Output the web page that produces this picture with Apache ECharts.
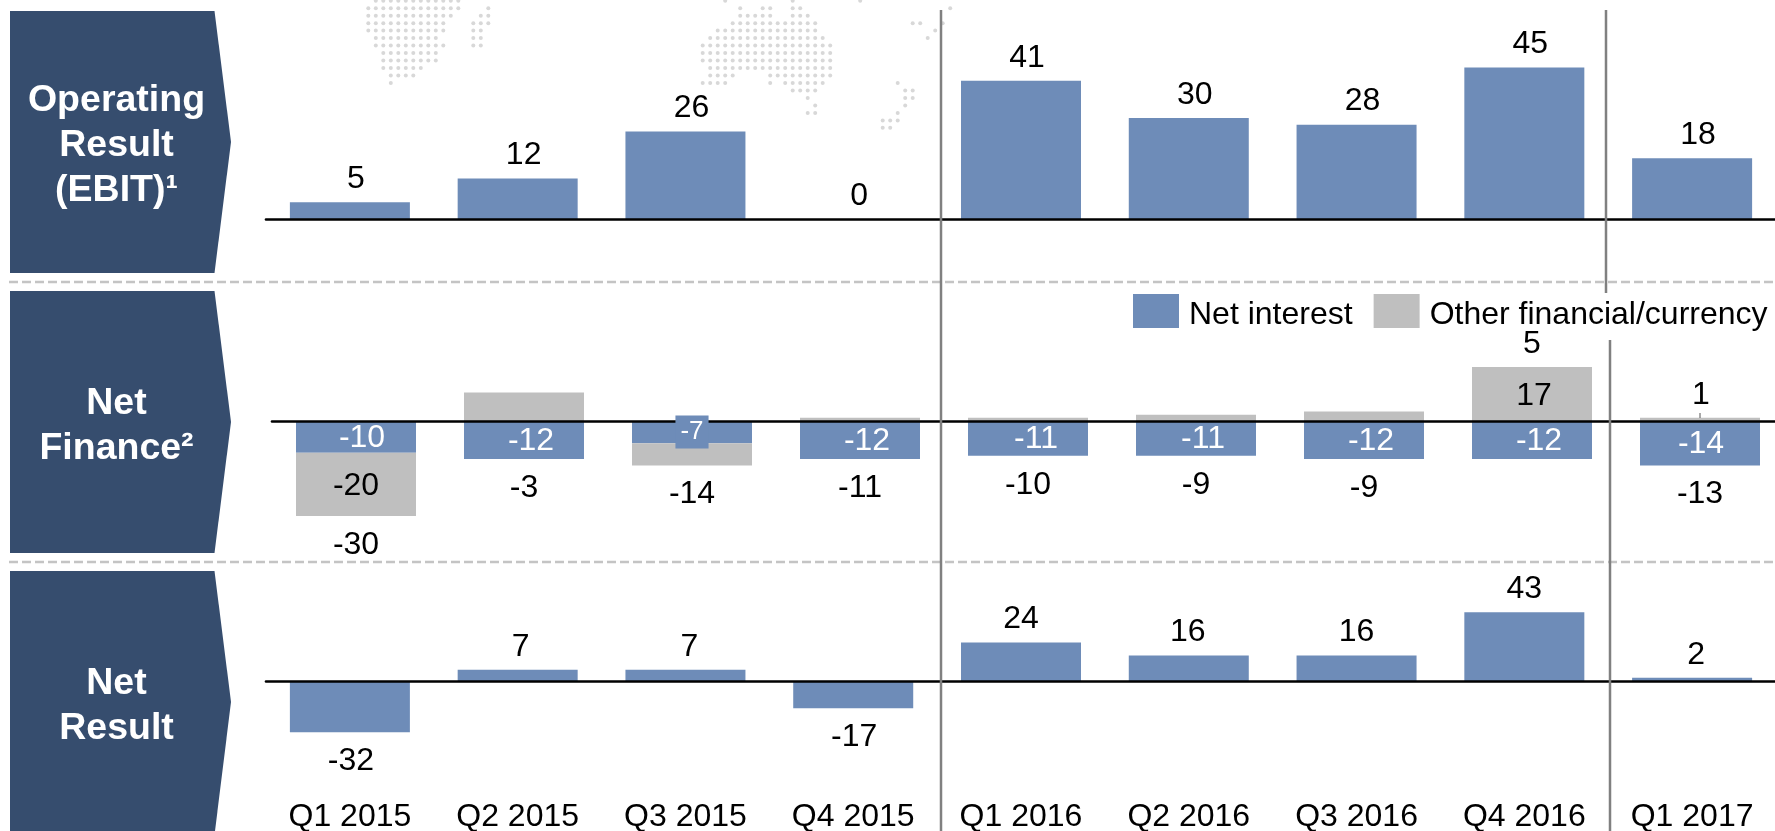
<!DOCTYPE html>
<html>
<head>
<meta charset="utf-8">
<style>html,body{margin:0;padding:0;background:#fff;overflow:hidden}#c{width:1775px;height:831px}</style>
<script src="https://cdn.jsdelivr.net/npm/echarts@6/dist/echarts.min.js"></script>
</head>
<body>
<div id="c"></div>
<script>
var quarters = ['Q1 2015','Q2 2015','Q3 2015','Q4 2015','Q1 2016','Q2 2016','Q3 2016','Q4 2016','Q1 2017'];
var operatingResult = [5,12,26,0,41,30,28,45,18];
var netInterest = [-10,-12,-7,-12,-11,-11,-12,-12,-14];
var otherFinancial = [-20,9,-7,1,1,2,3,17,1];
var otherLabelled = [true,false,false,false,false,false,false,true,true];
var netFinance = [-30,-3,-14,-11,-10,-9,-9,5,-13];
var netResult = [-32,7,7,-17,24,16,16,43,2];
var panelTitles = ['Operating\nResult\n(EBIT)\u00b9','Net\nFinance\u00b2','Net\nResult'];

var FONT = '"Liberation Sans", Arial, sans-serif';
var FS = 32, BLUE = '#6E8CB8', GREY = '#BFBFBF', NAVY = '#364D6E';

// small horizontal label nudges, as placed in the source slide
var nudgeInterest = [6,7,0,7,8,7,7,7,1];
var nudgeResult = [1,3,4,1,0,-1,0,0,4];

// dotted world-map backdrop: rows of [firstCol,lastCol] runs
var mapLeft = [[[1,12]],[[0,12],[16,16]],[[0,11],[15,16]],[[0,10],[14,16]],[[0,10],[14,15]],[[1,9],[14,15]],[[1,10],[14,15]],[[2,9]],[[2,9]],[[2,7]],[[3,6]],[[3,3]]];
var mapRight = [[[3,3],[12,12],[21,21]],[[5,5],[8,9],[12,13],[33,33]],[[5,9],[12,14]],[[4,15],[28,29],[32,32]],[[2,15],[31,31]],[[1,16],[30,30]],[[0,17]],[[0,17]],[[0,17]],[[1,17]],[[1,4],[9,17]],[[0,3],[9,9],[11,16],[26,26]],[[12,15],[27,28]],[[14,14],[27,28]],[[15,15],[27,27]],[[14,15],[26,26]],[[24,26]],[[24,25]]];

function dots(rows, x0, y0) {
  var out = [];
  rows.forEach(function (runs, r) {
    runs.forEach(function (run) {
      for (var c = run[0]; c <= run[1]; c++) {
        out.push({type:'circle', silent:true, z:0, shape:{cx:x0 + c*7.5, cy:y0 + r*7.48, r:2}, style:{fill:'#D8D8D8'}});
      }
    });
  });
  return out;
}
function pentagon(top, bottom) {
  var mid = (top + Math.min(bottom, 833)) / 2;
  return {type:'polygon', silent:true, z:1, shape:{points:[[10,top],[214.5,top],[231,mid],[214.5,bottom],[10,bottom]]}, style:{fill:NAVY}};
}
function title(text, cy) {
  return {type:'text', silent:true, z:3, x:116.5, y:cy, style:{text:text, font:'bold 37.5px ' + FONT, lineHeight:45, fill:'#fff', align:'center', verticalAlign:'middle'}};
}
function vline(x, y1, y2) {
  return {type:'line', silent:true, z:20, shape:{x1:x,y1:y1,x2:x,y2:y2}, style:{stroke:'#808080', lineWidth:2.5}};
}
function hdash(y) {
  return {type:'line', silent:true, z:1, shape:{x1:9,y1:y,x2:1775,y2:y}, style:{stroke:'#C4C4C4', lineWidth:2.5, lineDash:[9,4]}};
}
var graphics = dots(mapLeft, 368.3, 0.7).concat(dots(mapRight, 702.7, 0.7)).concat([
  pentagon(11,273), pentagon(291,553), pentagon(571,835),
  title(panelTitles[0],146), title(panelTitles[1],426), title(panelTitles[2],706),
  hdash(282), hdash(562),
  vline(941,10,831), vline(1606,10,293), vline(1610,340,831),
  {type:'line', silent:true, z:3, shape:{x1:1700,y1:413,x2:1700,y2:418}, style:{stroke:'#555', lineWidth:1}}
]);

function lbl(v, dx) {
  return {value:v, label:{position: v < 0 ? 'bottom' : 'top', distance: v < 0 ? 13 : 7, offset:[dx, 0]}};
}
function xAxis(i) {
  return {type:'category', gridIndex:i, data:quarters, z:10, axisTick:{show:false}, axisLabel:{show:false},
          axisLine:{show:true, onZero:true, lineStyle:{color:'#000', width:2.6}}};
}
function yAxis(i, min, max) {
  return {type:'value', gridIndex:i, min:min, max:max, show:false, splitLine:{show:false}};
}
var outerLabel = {show:true, color:'#000', fontSize:FS, fontFamily:FONT};

var option = {
  animation:false,
  backgroundColor:'#fff',
  textStyle:{fontFamily:FONT},
  graphic:{elements:graphics},
  legend:{
    left:1133, top:294, padding:0, itemWidth:46, itemHeight:34, itemGap:21, icon:'rect',
    data:['Net interest','Other financial/currency'], selectedMode:false,
    formatter:'{t|{name}}',
    textStyle:{fontSize:FS, color:'#000', fontFamily:FONT,
               rich:{t:{fontSize:FS, color:'#000', fontFamily:FONT, padding:[9,0,0,5]}}}
  },
  grid:[
    {left:266, width:1510, top:0, height:219, outerBoundsMode:'none'},
    {left:272, width:1512, top:294.2, height:253.6, outerBoundsMode:'none'},
    {left:266, width:1510, top:601, height:144, outerBoundsMode:'none'}
  ],
  xAxis:[xAxis(0), xAxis(1), xAxis(2), {
    type:'category', gridIndex:2, data:quarters, position:'bottom',
    axisTick:{show:false}, axisLine:{show:false, onZero:false},
    axisLabel:{show:true, interval:0, margin:56, fontSize:FS, color:'#000', fontFamily:FONT}
  }],
  yAxis:[yAxis(0,0,65), yAxis(1,-40,40), yAxis(2,-40,50)],
  series:[
    {name:'Operating Result', type:'bar', xAxisIndex:0, yAxisIndex:0, barWidth:120, itemStyle:{color:BLUE},
     label:outerLabel, data:operatingResult.map(function(v){return lbl(v,6);})},
    {name:'Net interest', type:'bar', xAxisIndex:1, yAxisIndex:1, stack:'f', barWidth:120, itemStyle:{color:BLUE},
     label:{show:true, position:'inside', color:'#fff', fontSize:FS, fontFamily:FONT},
     data:netInterest.map(function(v,i){
       return {value:v, label: v > -10 ? {show:false} : {offset:[nudgeInterest[i],1]}};
     })},
    {name:'Other financial/currency', type:'bar', xAxisIndex:1, yAxisIndex:1, stack:'f', barWidth:120, itemStyle:{color:GREY},
     label:{show:true, position:'inside', color:'#000', fontSize:FS, fontFamily:FONT},
     data:otherFinancial.map(function(v,i){
       if (!otherLabelled[i]) return {value:v, label:{show:false}};
       if (Math.abs(v) < 5) return {value:v, label:{position:'top', distance:7, offset:[1,0]}};
       return {value:v, label:{offset:[v > 0 ? 2 : 0, 2]}};
     })},
    {name:'Net interest small', type:'scatter', xAxisIndex:1, yAxisIndex:1, symbolSize:0, z:15, silent:true,
     itemStyle:{opacity:1},
     label:{show:true, position:'inside', color:'#fff', fontSize:26, fontFamily:FONT, backgroundColor:BLUE, padding:[4,5,3,5],
            formatter:function(p){return String(p.value[2]);}},
     data:netInterest.map(function(v,i){return [i,v/2,v];}).filter(function(d){return d[2] > -10;})},
    {name:'Net Finance', type:'scatter', xAxisIndex:1, yAxisIndex:1, symbolSize:0, z:5, silent:true,
     itemStyle:{opacity:1},
     label:{show:true, color:'#000', fontSize:FS, fontFamily:FONT,
            formatter:function(p){return String(netFinance[p.dataIndex]);}},
     data:netFinance.map(function(t,i){
       var pos = Math.max(otherFinancial[i],0), neg = netInterest[i] + Math.min(otherFinancial[i],0);
       return {value:[i, t > 0 ? pos : neg], label:{position: t > 0 ? 'top' : 'bottom', distance: t > 0 ? 7 : 13}};
     })},
    {name:'Net Result', type:'bar', xAxisIndex:2, yAxisIndex:2, barWidth:120, itemStyle:{color:BLUE},
     label:outerLabel, data:netResult.map(function(v,i){return lbl(v,nudgeResult[i]);})}
  ]
};
var chart = echarts.init(document.getElementById('c'), null, {renderer:'canvas', width:1775, height:831});
chart.setOption(option);
</script>
</body>
</html>
